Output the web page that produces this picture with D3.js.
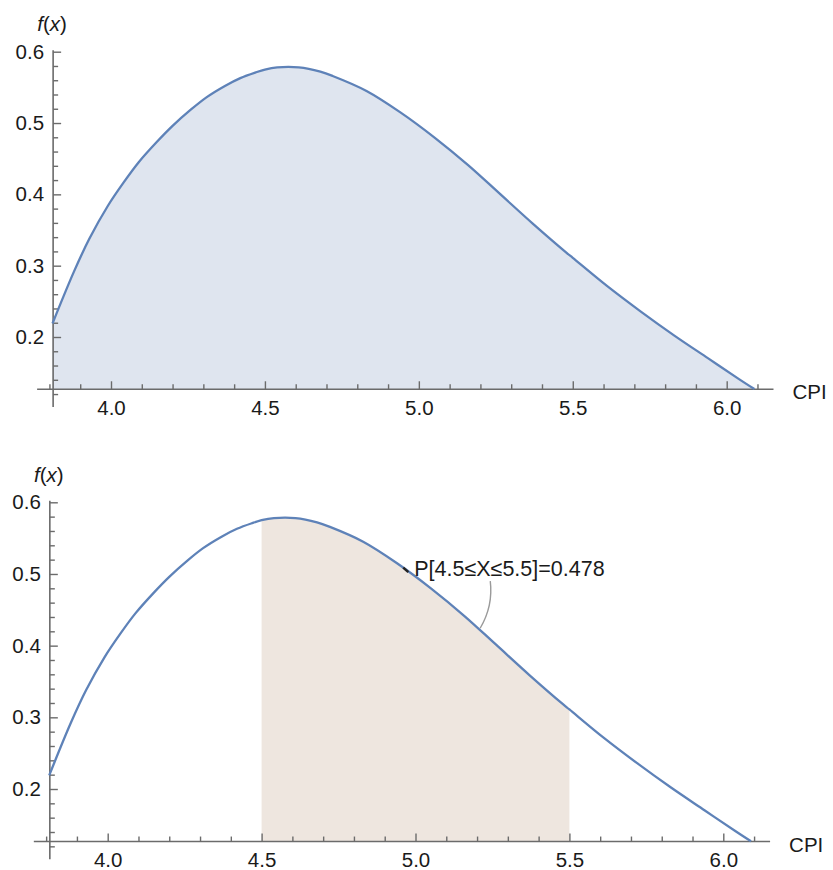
<!DOCTYPE html>
<html>
<head>
<meta charset="utf-8">
<script src="https://cdn.jsdelivr.net/npm/d3@7"></script>
<style>
  html, body { margin: 0; padding: 0; background: #fff; }
  svg { display: block; font-family: "Liberation Sans", Arial, Helvetica, sans-serif; }
  .tick text { fill: #1a1a1a; font-size: 20.5px; font-family: "Liberation Sans", Arial, Helvetica, sans-serif; }
  .tick line { stroke: #6b6b6b; stroke-width: 1.4; }
</style>
</head>
<body>
<svg id="chart" width="833" height="870"></svg>
<script>
// Density of CPI, sampled along the curve
const cpi = [3.81, 3.88, 3.93, 3.99, 4.04, 4.09, 4.15, 4.20, 4.26, 4.31, 4.37, 4.42, 4.47, 4.50,
             4.54, 4.61, 4.68, 4.72, 4.83, 4.94, 5.05, 5.16, 5.26, 5.37, 5.48, 5.50, 5.61, 5.72,
             5.83, 5.94, 6.04, 6.09];
const density = [0.219, 0.292, 0.338, 0.384, 0.416, 0.445, 0.474, 0.496, 0.519, 0.536, 0.552, 0.563,
                 0.571, 0.575, 0.578, 0.578, 0.572, 0.566, 0.545, 0.515, 0.480, 0.441, 0.402, 0.359,
                 0.318, 0.311, 0.272, 0.236, 0.202, 0.170, 0.141, 0.127];

// Interval shaded in the lower panel and its probability
const intervalLo = 4.5;
const intervalHi = 5.5;
const intervalProb = 0.478;
const calloutX = 4.97;   // where the label touches the curve
const leaderX = 5.21;    // where the leader line meets the curve

// Axis ticks
const xMajor = [4.0, 4.5, 5.0, 5.5, 6.0];
const xMinor = [3.8, 3.9, 4.1, 4.2, 4.3, 4.4, 4.6, 4.7, 4.8, 4.9, 5.1, 5.2, 5.3, 5.4, 5.6, 5.7, 5.8, 5.9, 6.1];
const yMajor = [0.2, 0.3, 0.4, 0.5, 0.6];
const yMinor = [0.12, 0.14, 0.16, 0.18, 0.22, 0.24, 0.26, 0.28, 0.32, 0.34, 0.36, 0.38,
                0.42, 0.44, 0.46, 0.48, 0.52, 0.54, 0.56, 0.58];

const xLabel = "CPI";

const points = cpi.map((c, i) => ({ x: c, y: density[i] }));

const svg = d3.select("#chart");
const axisColor = "#6b6b6b";
const lineColor = "#5e82b8";
const xCross = 3.812, yCross = 0.1267;   // where the two axes meet
const xAxisExtent = [3.76, 6.152];
const yAxisExtent = [0.102, 0.602];
const smooth = d3.curveCatmullRom.alpha(0.5);

function panel(id, xRange, yRange, shaded) {
  const x = d3.scaleLinear().domain([4, 6]).range(xRange);
  const y = d3.scaleLinear().domain([0.2, 0.6]).range(yRange);
  const g = svg.append("g").attr("id", id);

  const line = d3.line().x(d => x(d.x)).y(d => y(d.y)).curve(smooth);
  const area = d3.area().x(d => x(d.x)).y0(y(yCross)).y1(d => y(d.y)).curve(smooth);

  if (!shaded) {
    g.append("path").datum(points).attr("d", area).attr("fill", "#dfe5ef");
  } else {
    const clipId = id + "-clip";
    g.append("clipPath").attr("id", clipId)
      .append("rect")
      .attr("x", x(intervalLo)).attr("width", x(intervalHi) - x(intervalLo))
      .attr("y", 0).attr("height", y(yCross) + 1);
    g.append("path").datum(points).attr("d", area)
      .attr("fill", "#eee6df").attr("clip-path", `url(#${clipId})`);
  }

  // axis lines
  g.append("line")
    .attr("x1", x(xAxisExtent[0])).attr("x2", x(xAxisExtent[1]))
    .attr("y1", y(yCross)).attr("y2", y(yCross))
    .attr("stroke", axisColor).attr("stroke-width", 1.6);
  g.append("line")
    .attr("x1", x(xCross)).attr("x2", x(xCross))
    .attr("y1", y(yAxisExtent[0])).attr("y2", y(yAxisExtent[1]))
    .attr("stroke", axisColor).attr("stroke-width", 1.6);

  // x ticks point up into the plot
  const gx = g.append("g").attr("transform", `translate(0,${y(yCross)})`);
  gx.append("g").call(d3.axisBottom(x).tickValues(xMinor).tickSizeInner(-5).tickSizeOuter(0).tickFormat(""))
    .call(s => s.select(".domain").remove());
  gx.append("g").call(d3.axisBottom(x).tickValues(xMajor).tickSizeInner(-8).tickSizeOuter(0)
      .tickPadding(11).tickFormat(d3.format(".1f")))
    .call(s => s.select(".domain").remove());

  // y ticks point right into the plot
  const gy = g.append("g").attr("transform", `translate(${x(xCross)},0)`);
  gy.append("g").call(d3.axisLeft(y).tickValues(yMinor).tickSizeInner(-5).tickSizeOuter(0).tickFormat(""))
    .call(s => s.select(".domain").remove());
  gy.append("g").call(d3.axisLeft(y).tickValues(yMajor).tickSizeInner(-8).tickSizeOuter(0)
      .tickPadding(9).tickFormat(d3.format(".1f")))
    .call(s => s.select(".domain").remove());

  // density curve
  g.append("path").datum(points).attr("d", line)
    .attr("fill", "none").attr("stroke", lineColor).attr("stroke-width", 2.3)
    .attr("stroke-linejoin", "round");

  // axis titles
  const fl = g.append("text")
    .attr("x", x(xCross) - 1).attr("y", y(yAxisExtent[1]) - 19)
    .attr("text-anchor", "middle").attr("font-size", 20.5).attr("fill", "#1a1a1a");
  fl.append("tspan").attr("font-style", "italic").text("f");
  fl.append("tspan").text("(");
  fl.append("tspan").attr("font-style", "italic").text("x");
  fl.append("tspan").text(")");

  g.append("text")
    .attr("x", x(xAxisExtent[1]) + 19).attr("y", y(yCross) + 10)
    .attr("font-size", 20.5).attr("fill", "#1a1a1a").text(xLabel);

  return { g, x, y };
}

panel("density", [111, 726.7], [337, 51.7], false);
const p2 = panel("interval", [107.7, 723.3], [789, 502.3], true);

// probability callout
const curveAt = v => d3.scaleLinear().domain(cpi).range(density)(v);
const cx = p2.x(calloutX), cy = p2.y(curveAt(calloutX));
const lx = p2.x(leaderX), ly = p2.y(curveAt(leaderX));
p2.g.append("line")
  .attr("x1", cx - 3).attr("y1", cy - 2.5).attr("x2", cx + 2).attr("y2", cy + 2)
  .attr("stroke", "#222").attr("stroke-width", 2.4);
const tx = cx + 8, ty = cy + 6;
p2.g.append("text").attr("x", tx).attr("y", ty)
  .attr("font-size", 21.5).attr("fill", "#1a1a1a")
  .text(`P[${intervalLo}≤X≤${intervalHi}]=${intervalProb}`);
p2.g.append("path")
  .attr("d", `M${tx + 76},${ty + 5} Q${tx + 79},${ty + 30} ${lx},${ly - 2}`)
  .attr("fill", "none").attr("stroke", "#9a9a9a").attr("stroke-width", 1.4);
</script>
</body>
</html>
